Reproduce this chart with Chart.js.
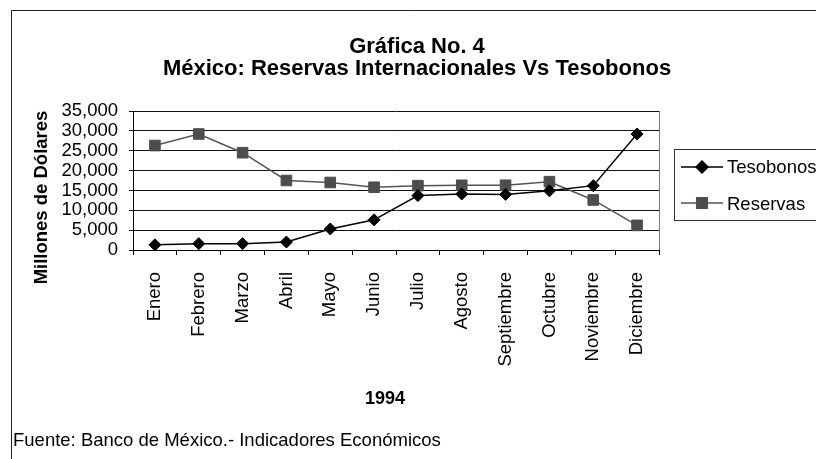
<!DOCTYPE html>
<html>
<head>
<meta charset="utf-8">
<script src="https://cdn.jsdelivr.net/npm/chart.js@4"></script>
<style>
  body { margin: 0; background: #fff; }
  #wrap { width: 816px; height: 459px; }
</style>
</head>
<body>
<div id="wrap"><canvas id="grafica" width="816" height="459"></canvas></div>
<script>
const meses = ["Enero", "Febrero", "Marzo", "Abril", "Mayo", "Junio", "Julio",
  "Agosto", "Septiembre", "Octubre", "Noviembre", "Diciembre"];
const tesobonos = [1300, 1600, 1600, 2000, 5300, 7600, 13700, 14100, 14000, 14900, 16200, 29200];
const reservas = [26300, 29200, 24500, 17500, 17000, 15800, 16200, 16300, 16300, 17200, 12600, 6200];
const yTicks = [0, 5000, 10000, 15000, 20000, 25000, 30000, 35000];

const titulo1 = "Gráfica No. 4";
const titulo2 = "México: Reservas Internacionales Vs Tesobonos";
const tituloY = "Millones de Dólares";
const tituloX = "1994";
const fuente = "Fuente: Banco de México.- Indicadores Económicos";

const FAM = '"Liberation Sans", Arial, sans-serif';

// fondo, marco, títulos y leyenda al estilo de Excel
const extras = {
  id: "extras",
  beforeDraw(chart) {
    const ctx = chart.ctx;
    ctx.save();
    ctx.fillStyle = "#fff";
    ctx.fillRect(0, 0, chart.width, chart.height);
    ctx.restore();
  },
  afterDraw(chart) {
    const ctx = chart.ctx;
    const a = chart.chartArea;
    ctx.save();

    // marco exterior (solo izquierda y arriba caen dentro)
    ctx.strokeStyle = "#222";
    ctx.lineWidth = 1;
    ctx.beginPath();
    ctx.moveTo(11.5, chart.height);
    ctx.lineTo(11.5, 10.5);
    ctx.lineTo(chart.width, 10.5);
    ctx.stroke();

    // borde derecho del área de trazado
    ctx.strokeStyle = "#777";
    ctx.beginPath();
    ctx.moveTo(Math.round(a.right) + 0.5, a.top);
    ctx.lineTo(Math.round(a.right) + 0.5, a.bottom);
    ctx.stroke();

    ctx.fillStyle = "#000";
    ctx.textAlign = "center";
    ctx.textBaseline = "alphabetic";
    ctx.font = "bold 22px " + FAM;
    ctx.fillText(titulo1, 417, 53);
    ctx.fillText(titulo2, 417, 75);

    ctx.font = "bold 18px " + FAM;
    ctx.fillText(tituloX, 385, 404);

    ctx.save();
    ctx.translate(46.5, 197.5);
    ctx.rotate(-Math.PI / 2);
    ctx.font = "bold 18.5px " + FAM;
    ctx.fillText(tituloY, 0, 0);
    ctx.restore();

    ctx.textAlign = "left";
    ctx.font = "18.5px " + FAM;
    ctx.fillText(fuente, 13, 446);

    // leyenda
    ctx.strokeStyle = "#333";
    ctx.strokeRect(674.5, 149.5, 200, 71);
    const filas = [
      { ds: chart.data.datasets[0], y: 167, base: 173 },
      { ds: chart.data.datasets[1], y: 203, base: 210 },
    ];
    filas.forEach(f => {
      ctx.strokeStyle = f.ds.borderColor;
      ctx.lineWidth = f.ds.borderWidth;
      ctx.beginPath();
      ctx.moveTo(681, f.y);
      ctx.lineTo(723, f.y);
      ctx.stroke();
      Chart.helpers.drawPoint(ctx, {
        pointStyle: f.ds.pointStyle,
        radius: f.ds.pointRadius,
        borderWidth: 1,
      }, 702, f.y);
      ctx.fillStyle = f.ds.pointBackgroundColor;
      ctx.fill();
      ctx.fillStyle = "#000";
      ctx.font = "18.5px " + FAM;
      ctx.fillText(f.ds.label, 727, f.base);
    });

    ctx.restore();
  }
};

new Chart(document.getElementById("grafica"), {
  type: "line",
  data: {
    labels: meses,
    datasets: [
      {
        label: "Tesobonos",
        data: tesobonos,
        borderColor: "#000",
        borderWidth: 1.5,
        pointStyle: "rectRot",
        pointRadius: 6,
        pointBackgroundColor: "#000",
        pointBorderColor: "#000",
        pointBorderWidth: 1,
        tension: 0,
      },
      {
        label: "Reservas",
        data: reservas,
        borderColor: "#555",
        borderWidth: 1.5,
        pointStyle: "rect",
        pointRadius: 7.5,
        pointBackgroundColor: "#4d4d4d",
        pointBorderColor: "#4d4d4d",
        pointBorderWidth: 1,
        tension: 0,
      },
    ],
  },
  options: {
    responsive: false,
    animation: false,
    layout: { padding: { left: 0, top: 111, right: 157, bottom: 0 } },
    plugins: {
      legend: { display: false },
      title: { display: false },
      tooltip: { enabled: false },
    },
    scales: {
      x: {
        offset: true,
        afterFit: s => { s.height = 209; },
        grid: {
          offset: true,
          drawOnChartArea: false,
          tickLength: 5,
          color: "#000",
        },
        border: { color: "#000", width: 1 },
        ticks: {
          autoSkip: false,
          minRotation: 90,
          maxRotation: 90,
          padding: 17,
          color: "#000",
          font: { family: FAM, size: 18.5 },
        },
      },
      y: {
        min: 0,
        max: 35000,
        afterFit: s => { s.width = 133; },
        afterBuildTicks: s => { s.ticks = yTicks.map(v => ({ value: v })); },
        grid: { color: "#111", tickLength: 4 },
        border: { color: "#000", width: 1 },
        ticks: {
          autoSkip: false,
          padding: 11,
          color: "#000",
          font: { family: FAM, size: 18.5, lineHeight: 1 },
          callback: v => v.toLocaleString("en-US"),
        },
      },
    },
  },
  plugins: [extras],
});
</script>
</body>
</html>
